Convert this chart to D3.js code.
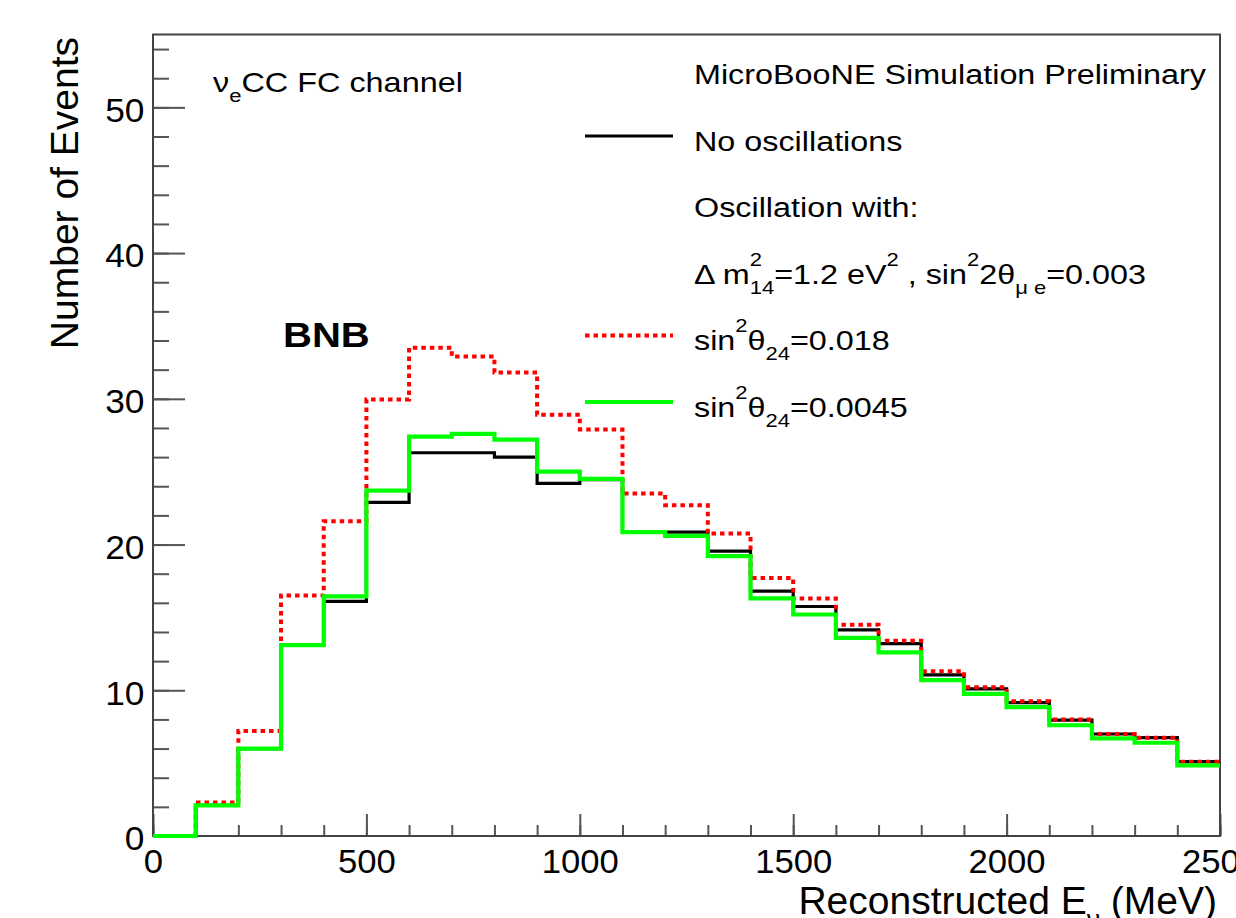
<!DOCTYPE html>
<html>
<head>
<meta charset="utf-8">
<script src="https://cdn.jsdelivr.net/npm/d3@7"></script>
<style>
  body { margin: 0; background: #fff; }
  svg { display: block; font-family: "Liberation Sans", Arial, Helvetica, sans-serif; }
  text { white-space: pre; }
</style>
</head>
<body>
<svg class="svg"></svg>
<script>
// histogram bin edges (MeV)
const binEdges = [0, 100, 200, 300, 400, 500, 600, 700, 800, 900, 1000, 1100, 1200,
  1300, 1400, 1500, 1600, 1700, 1800, 1900, 2000, 2100, 2200, 2300, 2400, 2500];

// events per bin
const noOscillation = [0, 2.1, 6.0, 13.1, 16.1, 22.9, 26.3, 26.3, 26.0, 24.2, 24.45, 20.85, 20.85,
  19.55, 16.8, 15.75, 14.15, 13.2, 11.05, 10.1, 9.15, 7.95, 7.0, 6.75, 5.1];
const oscTheta018 = [0, 2.3, 7.2, 16.5, 21.6, 29.95, 33.5, 32.9, 31.8, 28.9, 27.9, 23.5, 22.7,
  20.75, 17.7, 16.3, 14.5, 13.4, 11.3, 10.2, 9.25, 8.0, 7.0, 6.75, 5.1];
const oscTheta0045 = [0, 2.1, 6.0, 13.1, 16.45, 23.7, 27.4, 27.6, 27.2, 25.0, 24.5, 20.85, 20.6,
  19.2, 16.3, 15.2, 13.6, 12.6, 10.7, 9.75, 8.85, 7.6, 6.7, 6.4, 4.85];

const xTicks = [0, 500, 1000, 1500, 2000, 2500];
const yTicks = [0, 10, 20, 30, 40, 50];

const xTitle = [{ t: "Reconstructed E" }, { t: "ν", sub: true }, { t: " (MeV)" }];
const yTitle = "Number of Events";
const channelLabel = [{ t: "ν" }, { t: "e", sub: true }, { t: "CC FC channel" }];
const beamLabel = "BNB";

const legendRows = [
  { key: null, parts: [{ t: "MicroBooNE Simulation Preliminary" }] },
  { key: "none", parts: [{ t: "No oscillations" }] },
  { key: null, parts: [{ t: "Oscillation with:" }] },
  { key: null, parts: [{ t: "Δ m" }, { t: "2", sup: true }, { t: "14", sub: true, stack: true },
    { t: "=1.2 eV" }, { t: "2", sup: true }, { t: " , sin" }, { t: "2", sup: true }, { t: "2θ" },
    { t: "μ e", sub: true }, { t: "=0.003" }] },
  { key: "s018", parts: [{ t: "sin" }, { t: "2", sup: true }, { t: "θ" }, { t: "24", sub: true }, { t: "=0.018" }] },
  { key: "s0045", parts: [{ t: "sin" }, { t: "2", sup: true }, { t: "θ" }, { t: "24", sub: true }, { t: "=0.0045" }] }
];

const series = [
  { key: "none", values: noOscillation, color: "#000000", width: 3.2, dash: null },
  { key: "s018", values: oscTheta018, color: "#ff0000", width: 4, dash: "4.5,4" },
  { key: "s0045", values: oscTheta0045, color: "#00ff00", width: 4.2, dash: null }
];

// metrics
const metrics = { width: 1236, height: 918, left: 153, right: 1220, top: 34.5, bottom: 836 };

const svg = d3.select(".svg")
  .attr("width", metrics.width)
  .attr("height", metrics.height);

const x = d3.scaleLinear().domain([0, 2500]).range([metrics.left, metrics.right]);
const y = d3.scaleLinear().domain([0, 55]).range([metrics.bottom, metrics.top]);

// text with sub/superscripts
function richText(sel, parts, fs) {
  let shift = 0;
  let prev = null;
  parts.forEach(p => {
    const target = p.sup ? -0.64 * fs : p.sub ? 0.36 * fs : 0;
    const ts = sel.append("tspan")
      .attr("font-size", (p.sup || p.sub) ? fs * 0.68 : fs)
      .attr("dy", target - shift)
      .text(p.t);
    if (p.stack && prev) ts.attr("dx", -prev.node().getComputedTextLength());
    shift = target;
    prev = ts;
  });
}

// axes: minor then major ticks
function styleAxis(g) {
  g.select(".domain").remove();
  g.attr("font-family", null).attr("font-size", 33);
  g.selectAll(".tick line").attr("stroke", "#555").attr("stroke-width", 2);
  g.selectAll(".tick text").attr("fill", "#000");
}

svg.append("g")
  .attr("transform", `translate(0,${metrics.bottom})`)
  .call(d3.axisBottom(x).tickValues(d3.range(0, 2501, 100)).tickSizeInner(-11).tickSizeOuter(0).tickFormat(""))
  .call(styleAxis);

svg.append("g")
  .attr("transform", `translate(0,${metrics.bottom})`)
  .call(d3.axisBottom(x).tickValues(xTicks).tickSizeInner(-22).tickSizeOuter(0).tickPadding(13.5).tickFormat(d3.format("d")))
  .call(styleAxis)
  .selectAll(".tick text")
  .attr("transform", "scale(1.05,1)");

svg.append("g")
  .attr("transform", `translate(${metrics.left},0)`)
  .call(d3.axisLeft(y).tickValues(d3.range(0, 55, 2)).tickSizeInner(-16).tickSizeOuter(0).tickFormat(""))
  .call(styleAxis);

svg.append("g")
  .attr("transform", `translate(${metrics.left},0)`)
  .call(d3.axisLeft(y).tickValues(yTicks).tickSizeInner(-32).tickSizeOuter(0).tickPadding(8).tickFormat(d3.format("d")))
  .call(styleAxis)
  .selectAll(".tick text")
  .attr("dy", "0.42em")
  .attr("transform", "scale(1.07,1)");

// frame
svg.append("rect")
  .attr("x", metrics.left)
  .attr("y", metrics.top)
  .attr("width", metrics.right - metrics.left)
  .attr("height", metrics.bottom - metrics.top)
  .attr("fill", "none")
  .attr("stroke", "#444")
  .attr("stroke-width", 2);

// axis titles
svg.append("text")
  .attr("transform", `translate(78,37) rotate(-90)`)
  .attr("text-anchor", "end")
  .attr("font-size", 39)
  .attr("fill", "#000")
  .text(yTitle);

svg.append("text")
  .attr("transform", `translate(1217,914)`)
  .attr("text-anchor", "end")
  .attr("fill", "#000")
  .call(richText, xTitle, 39);

// histograms
const step = d3.line()
  .x(d => x(d[0]))
  .y(d => y(d[1]))
  .curve(d3.curveStepAfter);

svg.append("g")
  .selectAll("path.hist")
  .data(series)
  .join("path")
  .attr("class", "hist")
  .attr("fill", "none")
  .attr("stroke", d => d.color)
  .attr("stroke-width", d => d.width)
  .attr("stroke-dasharray", d => d.dash)
  .attr("d", d => step(d.values.map((v, i) => [binEdges[i], v]).concat([[binEdges[binEdges.length - 1], d.values[d.values.length - 1]]])));

// labels inside the pad
svg.append("text")
  .attr("transform", "translate(213,92) scale(1.2,1)")
  .attr("fill", "#000")
  .call(richText, channelLabel, 27);

svg.append("text")
  .attr("transform", "translate(283,347) scale(1.16,1)")
  .attr("font-size", 34.5)
  .attr("font-weight", "bold")
  .attr("fill", "#000")
  .text(beamLabel);

// legend
const legend = svg.append("g").attr("class", "legend");
const legendX = 694;
const rowBase = i => 84 + 66.5 * i;

legendRows.forEach((row, i) => {
  const s = series.find(d => d.key === row.key);
  if (s) {
    legend.append("line")
      .attr("x1", 585).attr("x2", 673)
      .attr("y1", rowBase(i) - 14.5).attr("y2", rowBase(i) - 14.5)
      .attr("stroke", s.color)
      .attr("stroke-width", s.width)
      .attr("stroke-dasharray", s.dash);
  }
  legend.append("text")
    .attr("transform", `translate(${legendX},${rowBase(i)}) scale(1.155,1)`)
    .attr("fill", "#000")
    .call(richText, row.parts, 28);
});
</script>
</body>
</html>
